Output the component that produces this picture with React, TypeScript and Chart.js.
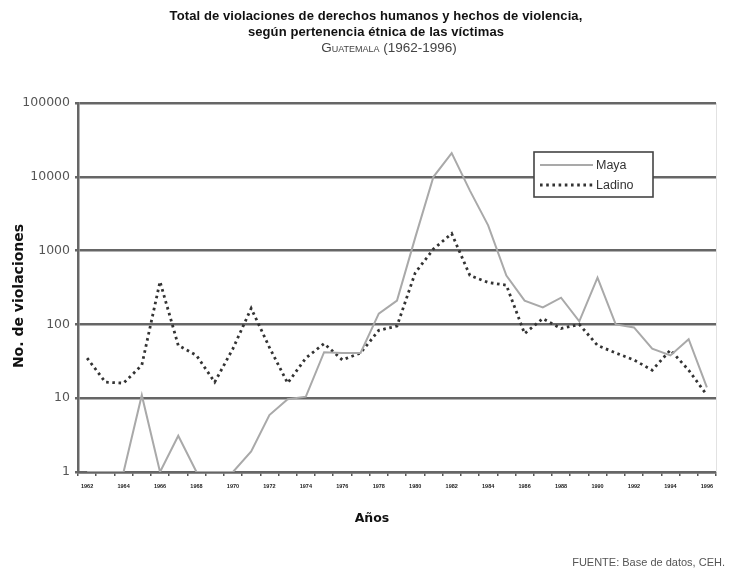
import React, { useEffect, useRef } from 'react';
import { Chart, registerables } from 'chart.js';

Chart.register(...registerables);

const years = [
  '1962','1963','1964','1965','1966','1967','1968','1969','1970','1971','1972','1973',
  '1974','1975','1976','1977','1978','1979','1980','1981','1982','1983','1984','1985',
  '1986','1987','1988','1989','1990','1991','1992','1993','1994','1995','1996',
];
const mayaValues = [
  1, 1, 1, 11, 1, 3.1, 1, 1, 1, 1.9, 5.9, 9.7,
  10.5, 42, 41, 41, 140, 210, 1500, 10000, 21000, 6500, 2200, 460,
  210, 170, 230, 110, 430, 100, 91, 47, 38, 63, 14,
];
const ladinoValues = [
  35, 16.5, 16, 28, 380, 52, 38, 16.5, 47, 165, 49, 16,
  35, 55, 33, 41, 83, 95, 500, 1050, 1700, 460, 370, 340,
  75, 120, 88, 100, 52, 41, 33, 24, 45, 24, 11,
];
const yTicks = [1, 10, 100, 1000, 10000, 100000];
const seriesNames = ['Maya', 'Ladino'];
const titleLines = [
  'Total de violaciones de derechos humanos y hechos de violencia,',
  'según pertenencia étnica de las víctimas',
];
const subtitle = 'Guatemala (1962-1996)';
const yTitle = 'No. de violaciones';
const xTitle = 'Años';
const source = 'FUENTE: Base de datos, CEH.';

const MAYA_COLOR = '#a9a9a9';
const LADINO_COLOR = '#333333';
const GRID_COLOR = '#666666';

const legendPlugin = {
  id: 'boxLegend',
  afterDraw(chart: any) {
    const { ctx, chartArea } = chart;
    ctx.save();
    ctx.strokeStyle = '#e2e2e2';
    ctx.lineWidth = 1;
    ctx.beginPath();
    ctx.moveTo(chartArea.right + 0.5, chartArea.top);
    ctx.lineTo(chartArea.right + 0.5, chartArea.bottom);
    ctx.stroke();

    const bx = chartArea.left + 456;
    const by = chartArea.top + 49;
    const bw = 119;
    const bh = 45;
    ctx.fillStyle = '#ffffff';
    ctx.fillRect(bx, by, bw, bh);
    ctx.strokeStyle = '#444';
    ctx.lineWidth = 1.6;
    ctx.strokeRect(bx, by, bw, bh);
    const ds = chart.data.datasets;
    ds.forEach((d: any, i: number) => {
      const y = by + 13 + i * 20;
      ctx.beginPath();
      ctx.strokeStyle = d.borderColor;
      ctx.lineWidth = d.borderWidth;
      ctx.setLineDash(d.borderDash || []);
      ctx.moveTo(bx + 6, y);
      ctx.lineTo(bx + 59, y);
      ctx.stroke();
      ctx.setLineDash([]);
      ctx.fillStyle = '#333';
      ctx.font = '12.5px "Liberation Sans", Arial, sans-serif';
      ctx.textBaseline = 'middle';
      ctx.textAlign = 'left';
      ctx.fillText(d.label, bx + 62, y + 1);
    });
    ctx.restore();
  },
};

export default function App() {
  const ref = useRef<HTMLCanvasElement | null>(null);
  useEffect(() => {
    if (!ref.current) return;
    const chart = new Chart(ref.current, {
      type: 'line',
      data: {
        labels: years,
        datasets: [
          {
            label: seriesNames[0],
            data: mayaValues,
            borderColor: MAYA_COLOR,
            borderWidth: 2,
            pointRadius: 0,
            tension: 0,
            fill: false,
          },
          {
            label: seriesNames[1],
            data: ladinoValues,
            borderColor: LADINO_COLOR,
            borderWidth: 2.8,
            borderDash: [2.6, 3.6],
            pointRadius: 0,
            tension: 0,
            fill: false,
          },
        ],
      },
      options: {
        responsive: false,
        animation: false,
        layout: { padding: { top: 103, right: 16, bottom: 44, left: 0 } },
        plugins: {
          legend: { display: false },
          tooltip: { enabled: false },
        },
        scales: {
          x: {
            type: 'category',
            offset: true,
            grid: {
              offset: true,
              drawOnChartArea: false,
              drawTicks: true,
              tickLength: 4,
              color: '#555',
              lineWidth: 1.5,
            },
            border: { display: true, color: GRID_COLOR, width: 2.5 },
            ticks: {
              autoSkip: false,
              maxRotation: 0,
              padding: 7,
              color: '#222',
              font: { family: '"Liberation Sans", Arial, sans-serif', size: 5.5, weight: 'bold' },
              callback: (_v: any, i: number) => (i % 2 === 0 ? years[i] : ''),
            },
            title: { display: false },
            afterFit: (scale: any) => {
              scale.height = 58;
            },
          },
          y: {
            type: 'logarithmic',
            min: 1,
            max: 100000,
            grid: {
              color: GRID_COLOR,
              lineWidth: 2.5,
              tickLength: 3,
            },
            border: { display: true, color: GRID_COLOR, width: 2.5 },
            afterBuildTicks: (scale: any) => {
              scale.ticks = yTicks.map((v) => ({ value: v }));
            },
            ticks: {
              padding: 5,
              color: '#555',
              font: { family: '"DejaVu Sans", sans-serif', size: 12.5 },
              callback: (v: any) => String(v),
            },
            title: { display: false },
            afterFit: (scale: any) => {
              scale.width = 78;
            },
          },
        },
      },
      plugins: [legendPlugin],
    } as any);
    return () => chart.destroy();
  }, []);

  const sans = '"Liberation Sans", Arial, sans-serif';
  return (
    <div style={{ position: 'absolute', left: 0, top: 0, width: 732, height: 574, background: '#fff' }}>
      <canvas ref={ref} width={732} height={574} style={{ position: 'absolute', left: 0, top: 0 }} />
      <div
        style={{
          position: 'absolute',
          left: 18 - 100,
          top: 296 - 10,
          width: 200,
          height: 20,
          lineHeight: '20px',
          textAlign: 'center',
          transform: 'rotate(-90deg)',
          fontFamily: '"DejaVu Sans", sans-serif',
          fontWeight: 'bold',
          fontSize: 14,
          color: '#111',
          whiteSpace: 'nowrap',
        }}
      >
        {yTitle}
      </div>
      <div
        style={{
          position: 'absolute',
          left: 20,
          top: 8,
          width: 712,
          textAlign: 'center',
          fontFamily: sans,
          fontWeight: 'bold',
          fontSize: 13,
          lineHeight: '16px',
          color: '#111',
          letterSpacing: '0.1px',
        }}
      >
        {titleLines.map((t) => (
          <div key={t}>{t}</div>
        ))}
        <div
          style={{
            fontWeight: 'normal',
            fontVariant: 'small-caps',
            fontSize: 13.5,
            color: '#444',
            marginTop: 0,
            paddingLeft: 26,
            letterSpacing: 0,
          }}
        >
          {subtitle}
        </div>
      </div>
      <div
        style={{
          position: 'absolute',
          left: 322,
          width: 100,
          top: 510,
          textAlign: 'center',
          fontFamily: '"DejaVu Sans", sans-serif',
          fontWeight: 'bold',
          fontSize: 12.5,
          color: '#111',
        }}
      >
        {xTitle}
      </div>
      <div
        style={{
          position: 'absolute',
          right: 7,
          top: 556,
          fontFamily: sans,
          fontSize: 11,
          color: '#555',
        }}
      >
        {source}
      </div>
    </div>
  );
}
